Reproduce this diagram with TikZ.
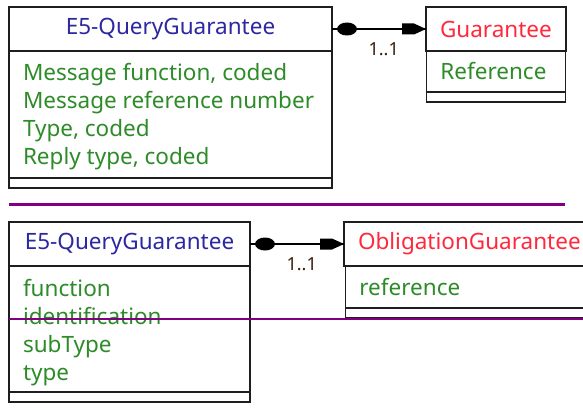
\documentclass[tikz,border=0pt]{standalone}
\usepackage{fontspec}
\setmainfont{Noto Sans}
\usetikzlibrary{positioning}
\definecolor{umlblue}{RGB}{45,40,160}
\definecolor{umlred}{RGB}{255,40,60}
\definecolor{umlgreen}{RGB}{45,140,40}
\definecolor{umlline}{RGB}{30,30,30}
\definecolor{multcol}{RGB}{60,30,10}
\definecolor{seppurple}{RGB}{128,0,128}
\tikzset{
  umlpart/.style={draw=umlline, line width=1.6pt, outer sep=0pt, inner xsep=14pt, inner ysep=0pt,
    font=\fontsize{22.5}{28}\selectfont},
  classhead/.style={umlpart, minimum width=#1, minimum height=44pt},
  attrbox/.style={umlpart, text width=#1, align=flush left, text=umlgreen},
  attrdrop/.style={execute at begin node={\rule{0pt}{#1}}},
  opbox/.style={umlpart, minimum width=#1, minimum height=10pt},
  assoc/.style={draw=black, line width=1.4pt},
  mult/.style={below=13pt, inner sep=0pt, text=multcol, font=\fontsize{18}{20}\selectfont\bfseries},
}
\begin{document}
\begin{tikzpicture}[x=1pt, y=-1pt]
  \useasboundingbox (0,0) rectangle (583,412);
  \clip (0,0) rectangle (583,412);
  \fill[white] (0,0) rectangle (583,412);
  % upper model
  \node[classhead=323pt, anchor=north west, text=umlblue] (qgA) at (9,7) {E5-QueryGuarantee};
  \node[attrbox=295pt, attrdrop=22pt, minimum height=127pt, below=0pt of qgA] (qgAattr)
    {Message function, coded\\\mbox{Message reference number}\\Type, coded\\Reply type, coded};
  \node[opbox=323pt, below=0pt of qgAattr] (qgAops) {};
  \node[classhead=139pt, anchor=north west, text=umlred] (guar) at (426,7) {Guarantee};
  \node[attrbox=111pt, minimum height=41pt, below=0pt of guar] (guarattr) {\mbox{Reference}};
  \node[opbox=139pt, below=0pt of guarattr] (guarops) {};
  \draw[assoc] (qgA.east) -- (guar.west) node[mult, pos=0.55] {1..1};
  \fill ([xshift=15pt]qgA.east) ellipse [x radius=10pt, y radius=6.5pt];
  \fill (guar.west) -- ++(-12pt,5.5pt) -- ++(-12pt,0pt) -- ++(0pt,-11pt) -- ++(12pt,0pt) -- cycle;
  % lower model
  \node[classhead=241pt, anchor=north west, text=umlblue] (qgB) at (9,222) {E5-QueryGuarantee};
  \node[attrbox=213pt, attrdrop=25pt, minimum height=126pt, below=0pt of qgB] (qgBattr)
    {function\\identification\\subType\\type};
  \node[opbox=241pt, below=0pt of qgBattr] (qgBops) {};
  \node[classhead=248pt, anchor=north west, text=umlred] (oblig) at (344,222) {ObligationGuarantee};
  \node[attrbox=220pt, minimum height=42pt, below=0pt of oblig] (obligattr) {reference};
  \node[opbox=248pt, below=0pt of obligattr] (obligops) {};
  \draw[assoc] (qgB.east) -- (oblig.west) node[mult, pos=0.55] {1..1};
  \fill ([xshift=15pt]qgB.east) ellipse [x radius=10pt, y radius=6.5pt];
  \fill (oblig.west) -- ++(-12pt,5.5pt) -- ++(-12pt,0pt) -- ++(0pt,-11pt) -- ++(12pt,0pt) -- cycle;
  % separators
  \draw[seppurple, line width=3pt] (9,204) -- (565,204);
  \draw[seppurple, line width=2pt] (9,318.5) -- (583,318.5);
\end{tikzpicture}
\end{document}
